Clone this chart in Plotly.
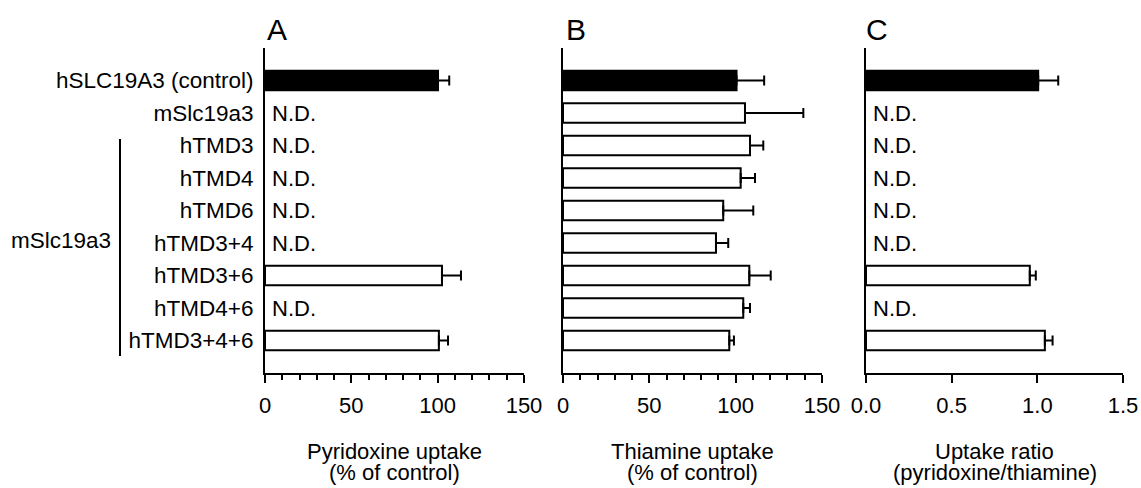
import plotly.graph_objects as go

categories = ["hSLC19A3 (control)", "mSlc19a3", "hTMD3", "hTMD4", "hTMD6",
              "hTMD3+4", "hTMD3+6", "hTMD4+6", "hTMD3+4+6"]

pyridoxine = [100.2, None, None, None, None, None, 102.5, None, 100.7]
pyridoxine_err = [6.5, 0, 0, 0, 0, 0, 11.0, 0, 5.3]

thiamine = [100.5, 105.4, 108.3, 102.9, 92.8, 88.6, 107.9, 104.4, 96.3]
thiamine_err = [16.0, 33.8, 7.7, 8.3, 17.4, 7.1, 12.4, 3.9, 2.7]

ratio = [1.005, None, None, None, None, None, 0.956, None, 1.044]
ratio_err = [0.117, 0, 0, 0, 0, 0, 0.035, 0, 0.045]

panel_letters = ["A", "B", "C"]
axis_titles = [("Pyridoxine uptake", "(% of control)"),
               ("Thiamine uptake", "(% of control)"),
               ("Uptake ratio", "(pyridoxine/thiamine)")]
x_ranges = [(0, 150), (0, 150), (0, 1.5)]
x_dticks = [50, 50, 0.5]
x_minor = [10, 10, None]
x_tickformat = ["d", "d", ".1f"]
group_label = "mSlc19a3"
nd_text = "N.D."

W, H = 1141, 488
FONT = "Liberation Sans, Arial, sans-serif"

def px(x):
    return x / W

def py(y):
    return (H - y) / H

domains = [(px(265), px(524)), (px(563), px(822)), (px(866), px(1123))]
ydom = (py(373), py(48))

series = [(pyridoxine, pyridoxine_err), (thiamine, thiamine_err), (ratio, ratio_err)]

fig = go.Figure()
fills = ["black"] + ["white"] * (len(categories) - 1)

for i, (vals, errs) in enumerate(series):
    xa = "x" if i == 0 else f"x{i+1}"
    ya = "y" if i == 0 else f"y{i+1}"
    fig.add_trace(go.Bar(
        y=categories, x=vals, orientation="h", xaxis=xa, yaxis=ya,
        width=0.6,
        marker=dict(color=fills, line=dict(color="black", width=2)),
        error_x=dict(type="data", array=errs, arrayminus=[0] * len(errs),
                     symmetric=False, thickness=2, width=5, color="black"),
        showlegend=False, hoverinfo="skip",
    ))
    for c, v in zip(categories, vals):
        if v is None:
            fig.add_annotation(x=0, y=c, xref=xa, yref=ya, text=nd_text,
                               showarrow=False, xanchor="left", yanchor="middle",
                               xshift=5, font=dict(family=FONT, size=22, color="black"))

layout = dict(
    width=W, height=H, margin=dict(l=0, r=0, t=0, b=0, autoexpand=False),
    paper_bgcolor="white", plot_bgcolor="white",
    font=dict(family=FONT, size=22, color="black"),
)

for i in range(3):
    sx = "" if i == 0 else str(i + 1)
    xaxis = dict(
        domain=list(domains[i]), range=list(x_ranges[i]), anchor="y" + sx,
        showline=True, linewidth=2, linecolor="black", mirror=False,
        showgrid=False, zeroline=False, automargin=False,
        ticks="outside", ticklen=8, tickwidth=2, tickcolor="black",
        dtick=x_dticks[i], tick0=0, tickformat=x_tickformat[i],
        tickfont=dict(family=FONT, size=22, color="black"),
        ticklabelstandoff=4, fixedrange=True,
    )
    if x_minor[i]:
        xaxis["minor"] = dict(dtick=x_minor[i], tick0=0, ticks="outside",
                              ticklen=5, tickwidth=2, tickcolor="black", showgrid=False)
    yaxis = dict(
        domain=list(ydom), anchor="x" + sx, type="category",
        categoryorder="array", categoryarray=categories,
        range=[len(categories), -1], automargin=False,
        showline=True, linewidth=2, linecolor="black",
        showgrid=False, zeroline=False, ticks="", fixedrange=True,
        showticklabels=(i == 0),
        tickfont=dict(family=FONT, size=22.5, color="black"),
        ticklabelstandoff=5,
    )
    layout["xaxis" + sx] = xaxis
    layout["yaxis" + sx] = yaxis

fig.update_layout(**layout)

lefts = [265, 564, 864]
for i in range(3):
    fig.add_annotation(x=px(lefts[i]), y=py(29), xref="paper", yref="paper",
                       text=panel_letters[i], showarrow=False, xanchor="left",
                       yanchor="middle", font=dict(family=FONT, size=30, color="black"))
    cx = (domains[i][0] + domains[i][1]) / 2
    fig.add_annotation(x=cx, y=py(451), xref="paper", yref="paper",
                       text=axis_titles[i][0], showarrow=False, xanchor="center",
                       yanchor="middle",
                       font=dict(family=FONT, size=22, color="black"))
    fig.add_annotation(x=cx, y=py(472), xref="paper", yref="paper",
                       text=axis_titles[i][1], showarrow=False, xanchor="center",
                       yanchor="middle",
                       font=dict(family=FONT, size=22, color="black"))

fig.add_shape(type="line", xref="paper", yref="paper",
              x0=px(120), x1=px(120), y0=py(139), y1=py(356),
              line=dict(color="black", width=2))
fig.add_annotation(x=px(113), y=py(240), xref="paper", yref="paper",
                   text=group_label, showarrow=False, xanchor="right", yanchor="middle",
                   font=dict(family=FONT, size=22.5, color="black"))

fig.write_html("out.html", config={"displayModeBar": False},
               post_script="document.body.style.margin='0';document.body.style.overflow='hidden';")
